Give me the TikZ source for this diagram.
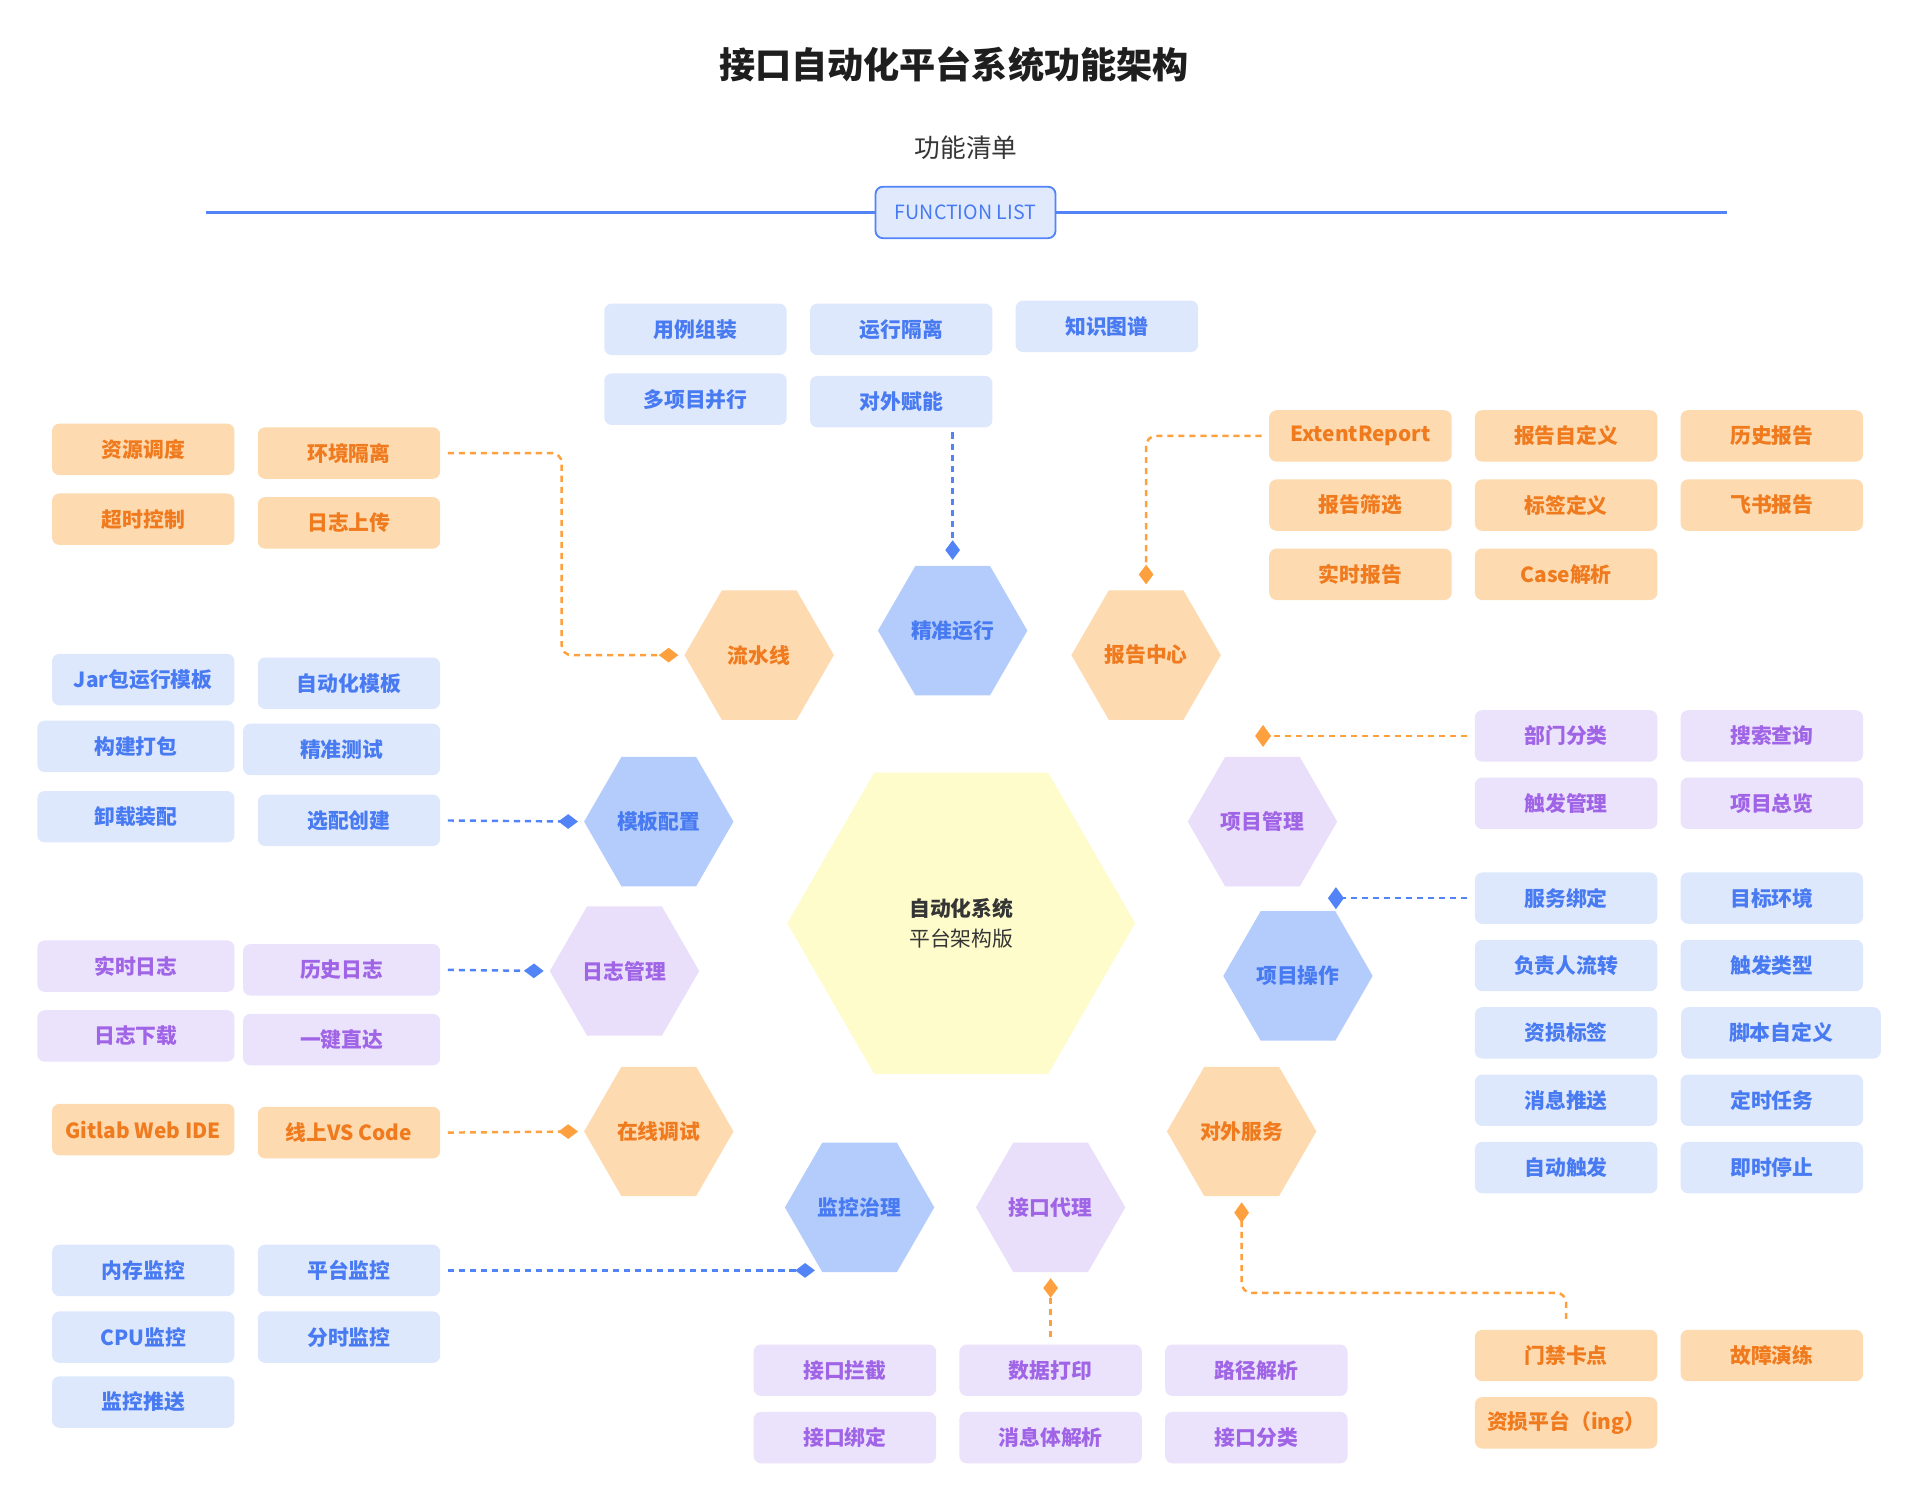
\documentclass[tikz,border=0pt]{standalone}
\usepackage{fontspec}
\setmainfont{Noto Sans CJK SC}
\usetikzlibrary{shapes.geometric,arrows.meta}
\definecolor{orangefig}{RGB}{253,218,175}
\definecolor{orangeword}{RGB}{240,122,30}
\definecolor{orangeline}{RGB}{255,160,62}
\definecolor{bluefig}{RGB}{222,232,253}
\definecolor{bluehexfig}{RGB}{180,204,252}
\definecolor{blueword}{RGB}{72,122,242}
\definecolor{blueline}{RGB}{82,132,248}
\definecolor{purplefig}{RGB}{235,226,252}
\definecolor{purplehexfig}{RGB}{233,223,250}
\definecolor{purpleword}{RGB}{160,100,230}
\definecolor{yellowfig}{RGB}{253,252,202}
\definecolor{titlefig}{RGB}{30,30,30}
\definecolor{listfig}{RGB}{225,234,253}
\tikzset{
    cardbox/.style={rounded corners=6pt, minimum width=149pt, minimum height=42pt, inner sep=0pt, font=\fontsize{17}{20}\selectfont\bfseries},
    orangebox/.style={cardbox, fill=orangefig, text=orangeword},
    bluebox/.style={cardbox, fill=bluefig, text=blueword},
    purplebox/.style={cardbox, fill=purplefig, text=purpleword},
    hexcell/.style={regular polygon, regular polygon sides=6, minimum size=122pt, inner sep=0pt, outer sep=0pt, font=\fontsize{17}{20}\selectfont\bfseries},
    orangehex/.style={hexcell, fill=orangefig, text=orangeword},
    bluehex/.style={hexcell, fill=bluehexfig, text=blueword},
    purplehex/.style={hexcell, fill=purplehexfig, text=purpleword},
    orangedashed/.style={line width=2pt, color=orangeline, dash pattern=on 5pt off 4pt, rounded corners=8pt},
    bluedashed/.style={line width=2pt, color=blueline, dash pattern=on 5pt off 4pt, rounded corners=8pt},
    endtip/.style={-{Diamond[length=16pt,width=12pt]}},
    widetip/.style={-{Diamond[length=13pt,width=18pt]}},
    starttip/.style={{Diamond[length=17pt,width=12pt]}-}
}
\begin{document}
\begin{tikzpicture}[x=1pt,y=-1pt]
        \fill[white] (0,0) rectangle (1568,1224);
        \useasboundingbox (0,0) rectangle (1568,1224);

        \node[text=titlefig, font=\fontsize{29.5}{34}\selectfont\bfseries] (TT) at (779,53) {接口自动化平台系统功能架构};
        \node[text=titlefig!90, font=\fontsize{21}{24}\selectfont] (ST) at (789,121) {功能清单};
        \coordinate (FL) at (168,173.5);
        \coordinate (FR) at (1410,173.5);
        \node[draw=blueline, line width=1.5pt, fill=listfig, rounded corners=6pt, minimum width=147pt, minimum height=42pt, text=blueword, font=\fontsize{16}{19}\selectfont] (FB) at (788.5,173.5) {FUNCTION LIST};
        \draw[blueline, line width=3pt] (FL) -- (FB.west);
        \draw[blueline, line width=3pt] (FB.east) -- (FR);

        \node[hexcell, minimum size=284pt, fill=yellowfig, text=titlefig!90, align=center, font=\fontsize{17}{25}\selectfont] (C) at (785,754) {\bfseries 自动化系统\\平台架构版};
        \node[orangehex] (H1) at (620,535) {流水线};
        \node[bluehex] (H2) at (778,515) {精准运行};
        \node[orangehex] (H3) at (936,535) {报告中心};
        \node[bluehex] (H4) at (538,671) {模板配置};
        \node[purplehex] (H5) at (1031,671) {项目管理};
        \node[purplehex] (H6) at (510,793) {日志管理};
        \node[bluehex] (H7) at (1060,797) {项目操作};
        \node[orangehex] (H8) at (538,924) {在线调试};
        \node[orangehex] (H9) at (1014,924) {对外服务};
        \node[bluehex] (H10) at (702,986) {监控治理};
        \node[purplehex] (H11) at (858,986) {接口代理};

        \node[bluebox] (T1) at (568,269) {用例组装};
        \node[bluebox] (T2) at (736,269) {运行隔离};
        \node[bluebox] (T3) at (904,266.5) {知识图谱};
        \node[bluebox] (T4) at (568,326) {多项目并行};
        \node[bluebox] (T5) at (736,328) {对外赋能};

        \node[orangebox] (L1) at (117,367) {资源调度};
        \node[orangebox] (L2) at (285,370) {环境隔离};
        \node[orangebox] (L3) at (117,424) {超时控制};
        \node[orangebox] (L4) at (285,427) {日志上传};

        \node[bluebox] (M1) at (117,555) {Jar包运行模板};
        \node[bluebox] (M2) at (285,558) {自动化模板};
        \node[bluebox, minimum width=161pt] (M3) at (111,609.5) {构建打包};
        \node[bluebox, minimum width=161pt] (M4) at (279,612) {精准测试};
        \node[bluebox, minimum width=161pt] (M5) at (111,667) {卸载装配};
        \node[bluebox] (M6) at (285,670) {选配创建};

        \node[purplebox, minimum width=161pt] (R1) at (111,789) {实时日志};
        \node[purplebox, minimum width=161pt] (R2) at (279,792) {历史日志};
        \node[purplebox, minimum width=161pt] (R3) at (111,846) {日志下载};
        \node[purplebox, minimum width=161pt] (R4) at (279,849) {一键直达};

        \node[orangebox] (G1) at (117,922.5) {Gitlab Web IDE};
        \node[orangebox] (G2) at (285,925) {线上VS Code};

        \node[bluebox] (N1) at (117,1037.5) {内存监控};
        \node[bluebox] (N2) at (285,1037.5) {平台监控};
        \node[bluebox] (N3) at (117,1092) {CPU监控};
        \node[bluebox] (N4) at (285,1092) {分时监控};
        \node[bluebox] (N5) at (117,1145) {监控推送};

        \node[purplebox] (J1) at (690,1119) {接口拦截};
        \node[purplebox] (J2) at (858,1119) {数据打印};
        \node[purplebox] (J3) at (1026,1119) {路径解析};
        \node[purplebox] (J4) at (690,1174) {接口绑定};
        \node[purplebox] (J5) at (858,1174) {消息体解析};
        \node[purplebox] (J6) at (1026,1174) {接口分类};

        \node[orangebox] (E1) at (1111,356) {ExtentReport};
        \node[orangebox] (E2) at (1279,356) {报告自定义};
        \node[orangebox] (E3) at (1447,356) {历史报告};
        \node[orangebox] (E4) at (1111,412.5) {报告筛选};
        \node[orangebox] (E5) at (1279,412.5) {标签定义};
        \node[orangebox] (E6) at (1447,412.5) {飞书报告};
        \node[orangebox] (E7) at (1111,469) {实时报告};
        \node[orangebox] (E8) at (1279,469) {Case解析};

        \node[purplebox] (K1) at (1279,601) {部门分类};
        \node[purplebox] (K2) at (1447,601) {搜索查询};
        \node[purplebox] (K3) at (1279,656) {触发管理};
        \node[purplebox] (K4) at (1447,656) {项目总览};

        \node[bluebox] (S1) at (1279,733.5) {服务绑定};
        \node[bluebox] (S2) at (1447,733.5) {目标环境};
        \node[bluebox] (S3) at (1279,788.5) {负责人流转};
        \node[bluebox] (S4) at (1447,788.5) {触发类型};
        \node[bluebox] (S5) at (1279,843.5) {资损标签};
        \node[bluebox, minimum width=163pt] (S6) at (1454.5,843.5) {脚本自定义};
        \node[bluebox] (S7) at (1279,898.5) {消息推送};
        \node[bluebox] (S8) at (1447,898.5) {定时任务};
        \node[bluebox] (S9) at (1279,953.5) {自动触发};
        \node[bluebox] (S10) at (1447,953.5) {即时停止};

        \node[orangebox] (D1) at (1279,1107) {门禁卡点};
        \node[orangebox] (D2) at (1447,1107) {故障演练};
        \node[orangebox] (D3) at (1279,1162) {资损平台（ing）};

        \draw[orangedashed, endtip, shorten <=6pt, shorten >=5pt] (L2.east) -- ++(99,0) |- (H1.west);
        \draw[bluedashed, endtip, shorten <=4pt, shorten >=5pt] (H2.north |- T5.south) -- (H2.north);
        \draw[orangedashed, endtip, shorten <=6pt, shorten >=5pt] (E1.west) -| (H3.north);
        \draw[orangedashed, widetip, shorten <=6pt, shorten >=-6pt] (K1.west) -- (H5.north |- K1.west);
        \draw[bluedashed, widetip, shorten <=6pt, shorten >=-6pt] (S1.west) -- (H7.60 |- S1.west);
        \draw[bluedashed, endtip, shorten <=6pt, shorten >=5pt] (M6.east) -- (H4.west);
        \draw[bluedashed, endtip, shorten <=6pt, shorten >=5pt] (R2.east) -- (H6.west);
        \draw[orangedashed, endtip, shorten <=6pt, shorten >=5pt] (G2.east) -- (H8.west);
        \draw[bluedashed, endtip, shorten <=6pt, shorten >=6pt] (N2.east) -- (H10.240 |- N2.east);
        \draw[orangedashed, endtip, shorten <=6pt, shorten >=5pt] (J2.north) -- (H11.south);
        \draw[orangedashed, starttip, shorten <=5pt, shorten >=6pt] (H9.south) -- ++(0,79) -| (D1.north);

    \end{tikzpicture}
\end{document}
